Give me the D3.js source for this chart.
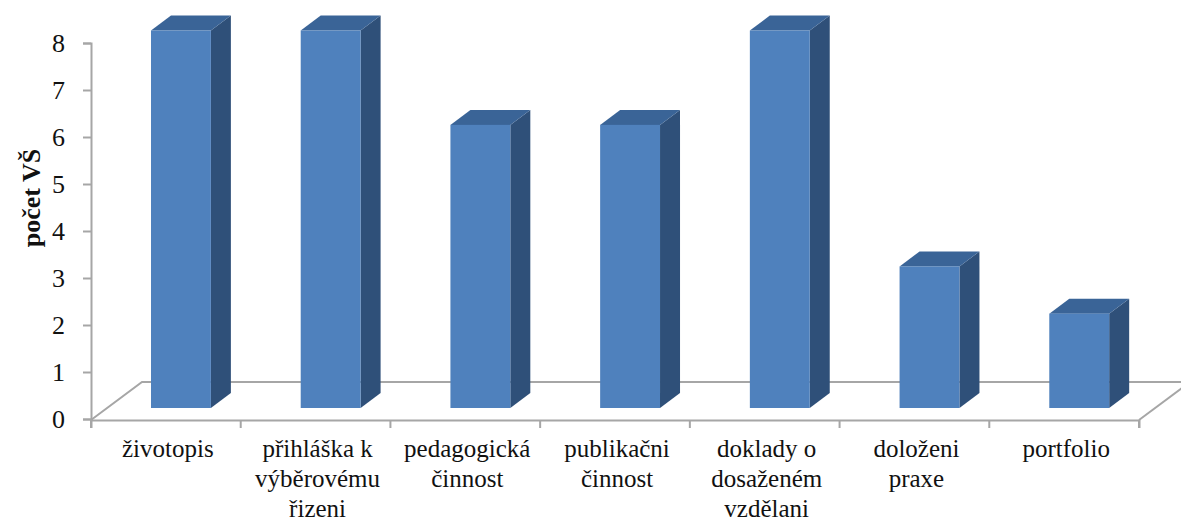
<!DOCTYPE html>
<html>
<head>
<meta charset="utf-8">
<script src="https://cdn.jsdelivr.net/npm/d3@7"></script>
<style>
  html, body { margin: 0; padding: 0; background: #fff; }
  svg { display: block; }
  text { font-family: "Liberation Serif", "Times New Roman", serif; fill: #111; }
</style>
</head>
<body>
<svg id="chart" width="1181" height="522"></svg>
<script>
// Data
const categories = [
  ["životopis"],
  ["přihláška k", "výběrovému", "řizeni"],
  ["pedagogická", "činnost"],
  ["publikačni", "činnost"],
  ["doklady o", "dosaženém", "vzdělani"],
  ["doloženi", "praxe"],
  ["portfolio"]
];
const values = [8, 8, 6, 6, 8, 3, 2];
const yTicks = [0, 1, 2, 3, 4, 5, 6, 7, 8];
const yTitle = "počet VŠ";

const svg = d3.select("#chart");

// Layout
const axisX = 91, axisRight = 1139;
const floorY = 420;        // front edge of the floor
const depthX = 51, depthY = -38; // floor depth offset
const barBase = 408;       // bottom of bar front faces
const barDx = 20, barDy = -15;   // bar depth offset

const keys = categories.map((c, i) => i);
const x = d3.scaleBand().domain(keys).range([axisX, axisRight]).padding(0);
const yAxisScale = d3.scaleLinear().domain([0, 8]).range([419, 43]);
const yBar = d3.scaleLinear().domain([0, 8]).range([barBase, 30.5]);

const gridColor = "#a6a6a6";

// Floor
svg.append("path")
  .attr("d", `M${axisX},${floorY} L${axisX + depthX},${floorY + depthY} L${axisRight + depthX + 20},${floorY + depthY}`)
  .attr("fill", "none").attr("stroke", gridColor).attr("stroke-width", 2);
svg.append("path")
  .attr("d", `M${axisRight},${floorY} L${axisRight + depthX},${floorY + depthY}`)
  .attr("fill", "none").attr("stroke", gridColor).attr("stroke-width", 2);

// Value axis
const yAxis = d3.axisLeft(yAxisScale).tickValues(yTicks).tickSize(8).tickPadding(18).tickFormat(d3.format("d"));
const gy = svg.append("g").attr("transform", `translate(${axisX},0)`).call(yAxis);
gy.select(".domain").attr("stroke", gridColor).attr("stroke-width", 2);
gy.selectAll(".tick line").attr("stroke", gridColor).attr("stroke-width", 2);
gy.selectAll(".tick text")
  .style("font-family", "'Liberation Serif', serif")
  .style("font-size", "26px").attr("fill", "#111").attr("dy", "0.34em");

// Category axis
const xAxis = d3.axisBottom(x).tickSize(8).tickFormat("");
const gx = svg.append("g").attr("transform", `translate(0,${floorY})`).call(xAxis);
gx.select(".domain").attr("stroke", gridColor).attr("stroke-width", 2);
gx.selectAll(".tick").remove();
const bounds = keys.map(k => x(k)).concat([axisRight]);
gx.selectAll("line.sep").data(bounds).enter().append("line")
  .attr("class", "sep")
  .attr("x1", d => d).attr("x2", d => d)
  .attr("y1", 0).attr("y2", 8)
  .attr("stroke", gridColor).attr("stroke-width", 2);

// Category labels
const labels = svg.append("g");
categories.forEach((lines, i) => {
  const t = labels.append("text")
    .attr("text-anchor", "middle")
    .style("font-size", "25px");
  lines.forEach((ln, j) => {
    t.append("tspan")
      .attr("x", x(i) + x.bandwidth() / 2 + 2)
      .attr("y", 457 + j * 30)
      .text(ln);
  });
});

// Axis title
svg.append("text")
  .attr("transform", "translate(40,198) rotate(-90)")
  .attr("text-anchor", "middle")
  .style("font-size", "26px")
  .style("font-weight", "bold")
  .text(yTitle);

// 3D bars
const barW = x.bandwidth() * 0.4;
const barOffset = 60;
const bars = svg.append("g").selectAll("g.bar").data(values).enter().append("g").attr("class", "bar");

bars.each(function (v, i) {
  const g = d3.select(this);
  const x0 = x(i) + barOffset, x1 = x0 + barW;
  const yt = yBar(v), yb = barBase;
  // side face
  g.append("path")
    .attr("d", `M${x1},${yb} L${x1 + barDx},${yb + barDy} L${x1 + barDx},${yt + barDy} L${x1},${yt} Z`)
    .attr("fill", "#2f5079");
  // top face
  g.append("path")
    .attr("d", `M${x0},${yt} L${x0 + barDx},${yt + barDy} L${x1 + barDx},${yt + barDy} L${x1},${yt} Z`)
    .attr("fill", "#3a6497");
  // front face
  g.append("rect")
    .attr("x", x0).attr("y", yt)
    .attr("width", barW).attr("height", yb - yt)
    .attr("fill", "#4f81bd");
});
</script>
</body>
</html>
